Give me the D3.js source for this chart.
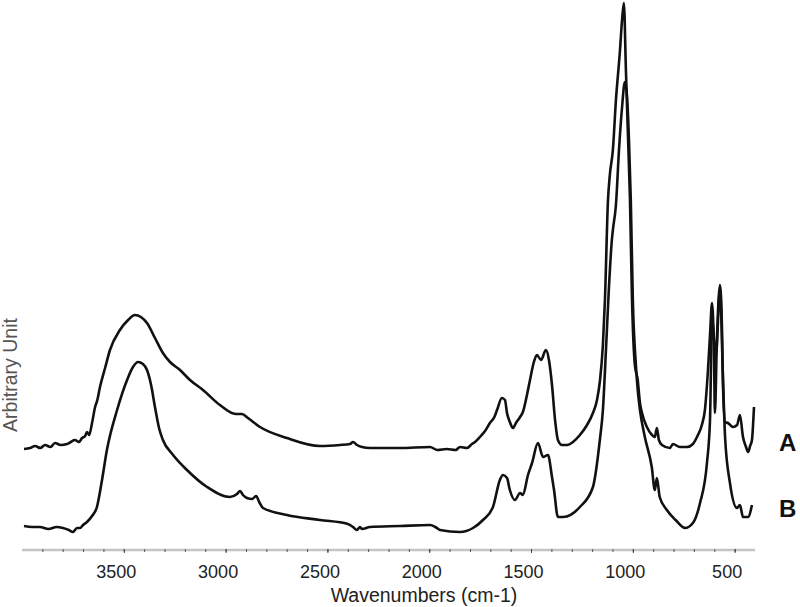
<!DOCTYPE html>
<html>
<head>
<meta charset="utf-8">
<script src="https://cdn.jsdelivr.net/npm/d3@7"></script>
<style>
  body { margin: 0; background: #fff; }
  .chart text { font-family: "Liberation Sans", Arial, sans-serif; }
</style>
</head>
<body>
<div class="chart"></div>
<script>
// spectrum A: [wavenumber cm-1, arbitrary intensity]
var spectrumA = [
  [3990, 20.2], [3960, 20.4], [3936, 20.8], [3910, 20.4], [3887, 21.0], [3860, 20.6],
  [3838, 21.4], [3810, 21.0], [3779, 21.2], [3760, 21.6], [3740, 22.0], [3720, 21.6],
  [3705, 22.4], [3690, 22.8], [3681, 23.6], [3670, 23.0], [3656, 25.4], [3641, 28.6],
  [3630, 30.0], [3617, 32.6], [3592, 36.4], [3568, 40.0], [3519, 44.0], [3479, 46.0],
  [3445, 47.0], [3416, 46.6], [3386, 45.4], [3347, 42.4], [3308, 39.4], [3273, 37.6],
  [3224, 36.0], [3175, 34.0], [3111, 32.0], [3028, 29.0], [2950, 27.2], [2920, 27.2],
  [2890, 26.4], [2831, 24.6], [2699, 22.4], [2537, 20.8], [2438, 21.0], [2389, 21.2],
  [2374, 21.6], [2355, 21.0], [2330, 20.6], [2291, 20.4], [2144, 20.4], [1996, 20.6],
  [1960, 20.0], [1913, 20.2], [1870, 20.0], [1849, 20.6], [1815, 20.4], [1790, 21.2],
  [1775, 21.6], [1751, 22.6], [1726, 23.8], [1702, 25.4], [1680, 26.6], [1667, 28.0],
  [1643, 30.4], [1628, 30.0], [1618, 27.4], [1604, 25.6], [1589, 24.4], [1574, 25.4],
  [1554, 26.6], [1540, 27.6], [1520, 31.0], [1505, 34.0], [1486, 37.6], [1471, 39.0],
  [1451, 38.0], [1427, 40.0], [1412, 38.0], [1397, 33.0], [1382, 26.0], [1368, 22.0],
  [1348, 21.0], [1323, 21.0], [1294, 21.6], [1260, 23.0], [1225, 25.0], [1196, 27.4],
  [1176, 30.0], [1161, 34.0], [1147, 41.0], [1137, 50.0], [1122, 70.0], [1113, 75.0],
  [1098, 80.0], [1083, 90.0], [1063, 100.0], [1053, 106.0], [1044, 109.4], [1034, 96.0],
  [1024, 83.0], [1014, 70.0], [1004, 50.0], [990, 37.0], [976, 34.0], [965, 29.4],
  [955, 27.4], [931, 24.6], [906, 23.0], [892, 22.6], [882, 24.4], [872, 22.0],
  [857, 21.0], [818, 20.4], [803, 21.2], [769, 20.6], [734, 20.6], [705, 21.2],
  [685, 22.6], [661, 25.0], [646, 28.0], [631, 36.0], [621, 43.0], [611, 49.4],
  [601, 38.0], [597, 27.4], [587, 42.0], [572, 53.0], [562, 44.0], [557, 32.6],
  [547, 25.6], [533, 25.4], [508, 24.6], [488, 25.0], [474, 27.0], [459, 22.6],
  [444, 20.6], [434, 19.6], [424, 20.8], [415, 22.0], [405, 28.6]
];

// spectrum B
var spectrumB = [
  [3990, 4.8], [3950, 4.6], [3912, 4.6], [3870, 4.2], [3830, 4.6], [3799, 4.4],
  [3770, 4.0], [3750, 3.6], [3730, 4.4], [3715, 4.4], [3700, 5.0], [3681, 5.6],
  [3656, 6.8], [3632, 8.6], [3607, 14.0], [3583, 20.0], [3533, 28.0], [3484, 34.0],
  [3455, 36.6], [3430, 37.6], [3406, 37.2], [3386, 36.0], [3366, 33.0], [3347, 28.6],
  [3327, 24.4], [3308, 22.0], [3258, 19.0], [3190, 16.0], [3091, 12.6], [2979, 10.6],
  [2944, 11.2], [2929, 11.8], [2915, 11.0], [2895, 10.4], [2870, 10.2], [2850, 10.8],
  [2835, 9.6], [2816, 8.4], [2699, 7.0], [2537, 6.0], [2400, 5.2], [2374, 4.6],
  [2355, 4.0], [2340, 4.6], [2330, 4.2], [2291, 4.6], [2144, 4.8], [1996, 5.0],
  [1970, 4.6], [1947, 4.0], [1849, 3.6], [1785, 4.4], [1736, 6.0], [1687, 8.6],
  [1653, 14.0], [1638, 15.0], [1618, 14.4], [1604, 12.0], [1579, 10.0], [1554, 11.4],
  [1540, 11.0], [1515, 15.0], [1495, 17.4], [1466, 21.4], [1441, 18.6], [1417, 19.0],
  [1397, 14.6], [1387, 12.0], [1368, 6.6], [1343, 6.6], [1260, 8.6], [1196, 12.6],
  [1162, 22.0], [1147, 28.0], [1132, 40.0], [1118, 52.0], [1103, 62.0], [1098, 64.0],
  [1083, 69.0], [1068, 80.0], [1054, 88.0], [1039, 93.6], [1029, 91.0], [1019, 82.0],
  [1010, 70.0], [1000, 50.0], [985, 37.0], [976, 32.0], [965, 28.0], [941, 22.6],
  [907, 16.6], [892, 12.0], [882, 14.4], [868, 10.6], [833, 8.0], [790, 6.0],
  [744, 4.4], [705, 5.4], [670, 9.4], [636, 17.4], [621, 26.0], [611, 46.0],
  [592, 39.0], [572, 52.0], [557, 34.0], [547, 22.6], [523, 13.4], [488, 8.4],
  [474, 9.0], [459, 6.6], [434, 6.6], [415, 9.0]
];

var series = [
  { name: "A", values: spectrumA },
  { name: "B", values: spectrumB }
];

var majorTicks = [3500, 3000, 2500, 2000, 1500, 1000, 500];
var minorTicks = d3.range(3900, 400, -100);

var svgWidth = 800;
var svgHeight = 607;

var margin = { top: 0, right: 45, bottom: 57, left: 22 };
var width = svgWidth - margin.left - margin.right;
var height = svgHeight - margin.top - margin.bottom;

var svg = d3.select(".chart")
  .append("svg")
  .attr("width", svgWidth)
  .attr("height", svgHeight);

var chartGroup = svg.append("g")
  .attr("transform", `translate(${margin.left}, ${margin.top})`);

var xScale = d3.scaleLinear()
  .domain([4000, 400])
  .range([0, width]);

var yScale = d3.scaleLinear()
  .domain([0, 110])
  .range([height, 0]);

// axis baseline (grey bar)
chartGroup.append("line")
  .attr("x1", 0)
  .attr("x2", width)
  .attr("y1", height)
  .attr("y2", height)
  .attr("stroke", "#c4c4c4")
  .attr("stroke-width", 2.5);

var minorAxis = d3.axisBottom(xScale)
  .tickValues(minorTicks)
  .tickSize(3)
  .tickFormat("");

chartGroup.append("g")
  .attr("transform", `translate(0, ${height - 1})`)
  .call(minorAxis)
  .call(g => g.select(".domain").remove())
  .call(g => g.selectAll("line").attr("stroke", "#555"));

var majorAxis = d3.axisBottom(xScale)
  .tickValues(majorTicks)
  .tickSize(4)
  .tickPadding(12)
  .tickFormat(d3.format("d"));

chartGroup.append("g")
  .attr("transform", `translate(0, ${height - 1})`)
  .call(majorAxis)
  .call(g => g.select(".domain").remove())
  .call(g => g.selectAll("line").attr("stroke", "#444"))
  .call(g => g.selectAll("text")
    .attr("dx", -8)
    .attr("fill", "#222")
    .style("font-size", "18px"));

var line = d3.line()
  .x(d => xScale(d[0]))
  .y(d => yScale(d[1]))
  .curve(d3.curveMonotoneX);

chartGroup.selectAll(".spectrum")
  .data(series)
  .enter()
  .append("path")
  .attr("class", "spectrum")
  .attr("d", d => line(d.values))
  .attr("fill", "none")
  .attr("stroke", "#111")
  .attr("stroke-width", 2.6)
  .attr("stroke-linejoin", "round");

// labels sit level with the low end of each trace
var labelOffset = { A: 443, B: 509 };

chartGroup.selectAll(".label")
  .data(series)
  .enter()
  .append("text")
  .attr("class", "label")
  .attr("x", width + 24)
  .attr("y", d => labelOffset[d.name])
  .attr("dy", "0.35em")
  .attr("fill", "#111")
  .style("font-size", "24px")
  .style("font-weight", "bold")
  .text(d => d.name);

chartGroup.append("text")
  .attr("transform", "rotate(-90)")
  .attr("x", -375)
  .attr("y", 17 - margin.left)
  .attr("text-anchor", "middle")
  .attr("fill", "#555")
  .style("font-size", "19.5px")
  .text("Arbitrary Unit");

chartGroup.append("text")
  .attr("x", 424 - margin.left)
  .attr("y", 602)
  .attr("text-anchor", "middle")
  .attr("fill", "#222")
  .style("font-size", "19.5px")
  .text("Wavenumbers (cm-1)");
</script>
</body>
</html>
